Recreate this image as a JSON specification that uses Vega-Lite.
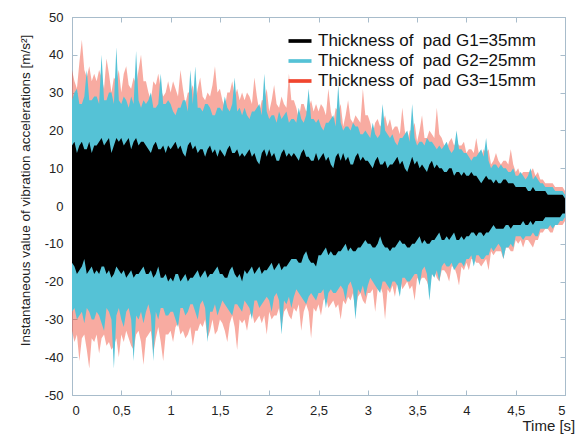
{
 "$schema": "https://vega.github.io/schema/vega-lite/v6.json",
 "width": 493, "height": 378,
 "autosize": {"type": "none"},
 "padding": {"left": 72, "top": 17, "right": 14, "bottom": 39},
 "background": "white",
 "config": {
  "font": "Liberation Sans",
  "view": {"stroke": "#A8BCCB", "strokeWidth": 1},
  "axis": {"domainColor": "#A8BCCB", "tickColor": "#A8BCCB", "grid": false, "labelFontSize": 13, "labelColor": "#222", "titleFontWeight": "normal", "titleColor": "#222"}
 },
 "data": {"values": [
  {"t":0.000,"k1":16,"k0":-15,"c1":28,"c0":-28,"r1":36,"r0":-33},
  {"t":0.025,"k1":17,"k0":-16,"c1":30,"c0":-27,"r1":33,"r0":-36},
  {"t":0.050,"k1":14,"k0":-18,"c1":31,"c0":-30,"r1":31,"r0":-34},
  {"t":0.075,"k1":16,"k0":-17,"c1":27,"c0":-29,"r1":38,"r0":-41},
  {"t":0.100,"k1":17,"k0":-16,"c1":27,"c0":-28,"r1":44,"r0":-35},
  {"t":0.125,"k1":15,"k0":-14,"c1":29,"c0":-31,"r1":36,"r0":-34},
  {"t":0.150,"k1":15,"k0":-18,"c1":36,"c0":-27,"r1":34,"r0":-38},
  {"t":0.175,"k1":17,"k0":-17,"c1":28,"c0":-28,"r1":37,"r0":-43},
  {"t":0.200,"k1":14,"k0":-16,"c1":28,"c0":-30,"r1":33,"r0":-35},
  {"t":0.225,"k1":16,"k0":-18,"c1":29,"c0":-30,"r1":35,"r0":-36},
  {"t":0.250,"k1":16,"k0":-17,"c1":29,"c0":-28,"r1":33,"r0":-34},
  {"t":0.275,"k1":17,"k0":-18,"c1":27,"c0":-29,"r1":36,"r0":-39},
  {"t":0.300,"k1":18,"k0":-16,"c1":40,"c0":-31,"r1":34,"r0":-35},
  {"t":0.325,"k1":16,"k0":-16,"c1":28,"c0":-33,"r1":31,"r0":-34},
  {"t":0.350,"k1":17,"k0":-18,"c1":28,"c0":-27,"r1":39,"r0":-37},
  {"t":0.375,"k1":18,"k0":-17,"c1":30,"c0":-28,"r1":35,"r0":-36},
  {"t":0.400,"k1":14,"k0":-19,"c1":30,"c0":-30,"r1":30,"r0":-38},
  {"t":0.425,"k1":16,"k0":-18,"c1":27,"c0":-43,"r1":34,"r0":-37},
  {"t":0.450,"k1":18,"k0":-16,"c1":42,"c0":-29,"r1":33,"r0":-35},
  {"t":0.475,"k1":17,"k0":-17,"c1":28,"c0":-27,"r1":36,"r0":-40},
  {"t":0.500,"k1":18,"k0":-18,"c1":27,"c0":-30,"r1":30,"r0":-34},
  {"t":0.525,"k1":16,"k0":-17,"c1":29,"c0":-32,"r1":35,"r0":-36},
  {"t":0.550,"k1":17,"k0":-19,"c1":28,"c0":-28,"r1":37,"r0":-33},
  {"t":0.575,"k1":18,"k0":-18,"c1":26,"c0":-27,"r1":32,"r0":-35},
  {"t":0.600,"k1":15,"k0":-17,"c1":29,"c0":-30,"r1":31,"r0":-37},
  {"t":0.625,"k1":17,"k0":-19,"c1":27,"c0":-41,"r1":34,"r0":-38},
  {"t":0.650,"k1":18,"k0":-18,"c1":41,"c0":-29,"r1":32,"r0":-34},
  {"t":0.675,"k1":16,"k0":-18,"c1":28,"c0":-30,"r1":36,"r0":-33},
  {"t":0.700,"k1":17,"k0":-17,"c1":26,"c0":-28,"r1":40,"r0":-36},
  {"t":0.725,"k1":17,"k0":-16,"c1":28,"c0":-31,"r1":33,"r0":-42},
  {"t":0.750,"k1":16,"k0":-18,"c1":27,"c0":-28,"r1":33,"r0":-35},
  {"t":0.775,"k1":15,"k0":-18,"c1":28,"c0":-26,"r1":30,"r0":-34},
  {"t":0.800,"k1":14,"k0":-17,"c1":30,"c0":-29,"r1":28,"r0":-33},
  {"t":0.825,"k1":16,"k0":-19,"c1":26,"c0":-41,"r1":33,"r0":-39},
  {"t":0.850,"k1":17,"k0":-18,"c1":26,"c0":-28,"r1":32,"r0":-35},
  {"t":0.875,"k1":15,"k0":-16,"c1":27,"c0":-30,"r1":35,"r0":-32},
  {"t":0.900,"k1":15,"k0":-19,"c1":35,"c0":-27,"r1":31,"r0":-36},
  {"t":0.925,"k1":16,"k0":-19,"c1":27,"c0":-27,"r1":29,"r0":-41},
  {"t":0.950,"k1":14,"k0":-18,"c1":27,"c0":-29,"r1":30,"r0":-34},
  {"t":0.975,"k1":16,"k0":-20,"c1":28,"c0":-29,"r1":33,"r0":-34},
  {"t":1.000,"k1":15,"k0":-19,"c1":27,"c0":-28,"r1":30,"r0":-33},
  {"t":1.025,"k1":16,"k0":-20,"c1":25,"c0":-28,"r1":33,"r0":-36},
  {"t":1.050,"k1":17,"k0":-18,"c1":24,"c0":-30,"r1":31,"r0":-32},
  {"t":1.075,"k1":15,"k0":-18,"c1":26,"c0":-32,"r1":29,"r0":-31},
  {"t":1.100,"k1":16,"k0":-20,"c1":26,"c0":-27,"r1":36,"r0":-34},
  {"t":1.125,"k1":14,"k0":-19,"c1":28,"c0":-27,"r1":31,"r0":-33},
  {"t":1.150,"k1":13,"k0":-18,"c1":28,"c0":-29,"r1":27,"r0":-35},
  {"t":1.175,"k1":16,"k0":-20,"c1":25,"c0":-28,"r1":30,"r0":-34},
  {"t":1.200,"k1":17,"k0":-19,"c1":36,"c0":-26,"r1":30,"r0":-32},
  {"t":1.225,"k1":15,"k0":-19,"c1":27,"c0":-26,"r1":32,"r0":-37},
  {"t":1.250,"k1":16,"k0":-18,"c1":37,"c0":-28,"r1":27,"r0":-33},
  {"t":1.275,"k1":14,"k0":-17,"c1":26,"c0":-30,"r1":31,"r0":-33},
  {"t":1.300,"k1":15,"k0":-19,"c1":26,"c0":-26,"r1":34,"r0":-31},
  {"t":1.325,"k1":15,"k0":-18,"c1":25,"c0":-25,"r1":29,"r0":-32},
  {"t":1.350,"k1":13,"k0":-17,"c1":27,"c0":-27,"r1":28,"r0":-30},
  {"t":1.375,"k1":15,"k0":-19,"c1":27,"c0":-36,"r1":30,"r0":-35},
  {"t":1.400,"k1":16,"k0":-18,"c1":26,"c0":-28,"r1":29,"r0":-33},
  {"t":1.425,"k1":14,"k0":-18,"c1":24,"c0":-28,"r1":32,"r0":-30},
  {"t":1.450,"k1":15,"k0":-17,"c1":24,"c0":-26,"r1":37,"r0":-34},
  {"t":1.475,"k1":13,"k0":-16,"c1":26,"c0":-29,"r1":30,"r0":-33},
  {"t":1.500,"k1":15,"k0":-18,"c1":26,"c0":-27,"r1":31,"r0":-30},
  {"t":1.525,"k1":14,"k0":-18,"c1":25,"c0":-25,"r1":28,"r0":-31},
  {"t":1.550,"k1":13,"k0":-19,"c1":29,"c0":-26,"r1":26,"r0":-33},
  {"t":1.575,"k1":15,"k0":-19,"c1":26,"c0":-27,"r1":30,"r0":-36},
  {"t":1.600,"k1":16,"k0":-17,"c1":25,"c0":-28,"r1":30,"r0":-31},
  {"t":1.625,"k1":14,"k0":-16,"c1":27,"c0":-29,"r1":33,"r0":-29},
  {"t":1.650,"k1":14,"k0":-18,"c1":34,"c0":-26,"r1":29,"r0":-32},
  {"t":1.675,"k1":15,"k0":-19,"c1":25,"c0":-26,"r1":31,"r0":-38},
  {"t":1.700,"k1":13,"k0":-18,"c1":26,"c0":-27,"r1":28,"r0":-30},
  {"t":1.725,"k1":14,"k0":-20,"c1":24,"c0":-28,"r1":30,"r0":-31},
  {"t":1.750,"k1":13,"k0":-17,"c1":26,"c0":-25,"r1":28,"r0":-30},
  {"t":1.775,"k1":14,"k0":-18,"c1":24,"c0":-26,"r1":30,"r0":-33},
  {"t":1.800,"k1":15,"k0":-17,"c1":23,"c0":-27,"r1":29,"r0":-29},
  {"t":1.825,"k1":13,"k0":-16,"c1":25,"c0":-30,"r1":27,"r0":-28},
  {"t":1.850,"k1":14,"k0":-18,"c1":25,"c0":-25,"r1":34,"r0":-31},
  {"t":1.875,"k1":12,"k0":-17,"c1":26,"c0":-25,"r1":29,"r0":-30},
  {"t":1.900,"k1":11,"k0":-16,"c1":27,"c0":-27,"r1":25,"r0":-29},
  {"t":1.925,"k1":14,"k0":-18,"c1":24,"c0":-26,"r1":28,"r0":-31},
  {"t":1.950,"k1":15,"k0":-17,"c1":35,"c0":-25,"r1":28,"r0":-29},
  {"t":1.975,"k1":13,"k0":-17,"c1":25,"c0":-24,"r1":31,"r0":-34},
  {"t":2.000,"k1":15,"k0":-16,"c1":23,"c0":-25,"r1":25,"r0":-28},
  {"t":2.025,"k1":13,"k0":-15,"c1":24,"c0":-28,"r1":28,"r0":-30},
  {"t":2.050,"k1":14,"k0":-17,"c1":24,"c0":-24,"r1":32,"r0":-29},
  {"t":2.075,"k1":12,"k0":-16,"c1":22,"c0":-23,"r1":27,"r0":-29},
  {"t":2.100,"k1":12,"k0":-15,"c1":25,"c0":-25,"r1":26,"r0":-27},
  {"t":2.125,"k1":14,"k0":-17,"c1":23,"c0":-34,"r1":29,"r0":-32},
  {"t":2.150,"k1":15,"k0":-16,"c1":24,"c0":-25,"r1":27,"r0":-28},
  {"t":2.175,"k1":13,"k0":-16,"c1":25,"c0":-26,"r1":26,"r0":-27},
  {"t":2.200,"k1":14,"k0":-15,"c1":22,"c0":-24,"r1":35,"r0":-29},
  {"t":2.225,"k1":13,"k0":-14,"c1":23,"c0":-27,"r1":28,"r0":-30},
  {"t":2.250,"k1":14,"k0":-14,"c1":23,"c0":-24,"r1":28,"r0":-27},
  {"t":2.275,"k1":13,"k0":-14,"c1":22,"c0":-22,"r1":26,"r0":-28},
  {"t":2.300,"k1":12,"k0":-15,"c1":26,"c0":-23,"r1":23,"r0":-26},
  {"t":2.325,"k1":14,"k0":-15,"c1":23,"c0":-24,"r1":27,"r0":-33},
  {"t":2.350,"k1":15,"k0":-13,"c1":22,"c0":-25,"r1":27,"r0":-28},
  {"t":2.375,"k1":13,"k0":-12,"c1":24,"c0":-26,"r1":25,"r0":-26},
  {"t":2.400,"k1":13,"k0":-14,"c1":31,"c0":-24,"r1":26,"r0":-28},
  {"t":2.425,"k1":12,"k0":-15,"c1":23,"c0":-23,"r1":28,"r0":-35},
  {"t":2.450,"k1":12,"k0":-15,"c1":23,"c0":-24,"r1":25,"r0":-27},
  {"t":2.475,"k1":14,"k0":-16,"c1":22,"c0":-25,"r1":27,"r0":-28},
  {"t":2.500,"k1":12,"k0":-13,"c1":23,"c0":-23,"r1":25,"r0":-26},
  {"t":2.525,"k1":13,"k0":-13,"c1":21,"c0":-23,"r1":27,"r0":-29},
  {"t":2.550,"k1":14,"k0":-12,"c1":20,"c0":-22,"r1":26,"r0":-25},
  {"t":2.575,"k1":12,"k0":-11,"c1":22,"c0":-27,"r1":24,"r0":-24},
  {"t":2.600,"k1":13,"k0":-13,"c1":22,"c0":-23,"r1":31,"r0":-27},
  {"t":2.625,"k1":11,"k0":-12,"c1":23,"c0":-22,"r1":25,"r0":-26},
  {"t":2.650,"k1":10,"k0":-13,"c1":24,"c0":-23,"r1":22,"r0":-25},
  {"t":2.675,"k1":13,"k0":-13,"c1":21,"c0":-23,"r1":26,"r0":-27},
  {"t":2.700,"k1":14,"k0":-12,"c1":32,"c0":-22,"r1":25,"r0":-26},
  {"t":2.725,"k1":12,"k0":-12,"c1":22,"c0":-21,"r1":27,"r0":-30},
  {"t":2.750,"k1":14,"k0":-11,"c1":20,"c0":-22,"r1":21,"r0":-25},
  {"t":2.775,"k1":12,"k0":-10,"c1":21,"c0":-25,"r1":24,"r0":-26},
  {"t":2.800,"k1":13,"k0":-12,"c1":21,"c0":-21,"r1":28,"r0":-24},
  {"t":2.825,"k1":11,"k0":-11,"c1":20,"c0":-20,"r1":23,"r0":-25},
  {"t":2.850,"k1":11,"k0":-12,"c1":22,"c0":-22,"r1":22,"r0":-23},
  {"t":2.875,"k1":13,"k0":-12,"c1":21,"c0":-30,"r1":24,"r0":-28},
  {"t":2.900,"k1":14,"k0":-11,"c1":21,"c0":-22,"r1":23,"r0":-24},
  {"t":2.925,"k1":12,"k0":-11,"c1":19,"c0":-23,"r1":22,"r0":-23},
  {"t":2.950,"k1":13,"k0":-10,"c1":19,"c0":-21,"r1":31,"r0":-25},
  {"t":2.975,"k1":12,"k0":-9,"c1":20,"c0":-24,"r1":24,"r0":-26},
  {"t":3.000,"k1":12,"k0":-10,"c1":19,"c0":-21,"r1":24,"r0":-23},
  {"t":3.025,"k1":11,"k0":-10,"c1":18,"c0":-19,"r1":22,"r0":-23},
  {"t":3.050,"k1":10,"k0":-11,"c1":22,"c0":-20,"r1":19,"r0":-22},
  {"t":3.075,"k1":12,"k0":-11,"c1":19,"c0":-21,"r1":22,"r0":-28},
  {"t":3.100,"k1":13,"k0":-10,"c1":18,"c0":-22,"r1":23,"r0":-22},
  {"t":3.125,"k1":11,"k0":-8,"c1":19,"c0":-23,"r1":21,"r0":-21},
  {"t":3.150,"k1":11,"k0":-10,"c1":27,"c0":-20,"r1":22,"r0":-23},
  {"t":3.175,"k1":12,"k0":-11,"c1":20,"c0":-20,"r1":24,"r0":-30},
  {"t":3.200,"k1":10,"k0":-11,"c1":19,"c0":-21,"r1":21,"r0":-22},
  {"t":3.225,"k1":11,"k0":-12,"c1":18,"c0":-22,"r1":23,"r0":-23},
  {"t":3.250,"k1":11,"k0":-11,"c1":19,"c0":-20,"r1":20,"r0":-21},
  {"t":3.275,"k1":12,"k0":-11,"c1":17,"c0":-20,"r1":21,"r0":-24},
  {"t":3.300,"k1":13,"k0":-10,"c1":16,"c0":-21,"r1":21,"r0":-20},
  {"t":3.325,"k1":11,"k0":-9,"c1":18,"c0":-24,"r1":19,"r0":-19},
  {"t":3.350,"k1":12,"k0":-10,"c1":18,"c0":-19,"r1":26,"r0":-22},
  {"t":3.375,"k1":10,"k0":-10,"c1":19,"c0":-19,"r1":20,"r0":-21},
  {"t":3.400,"k1":9,"k0":-11,"c1":20,"c0":-20,"r1":17,"r0":-20},
  {"t":3.425,"k1":11,"k0":-11,"c1":17,"c0":-20,"r1":20,"r0":-22},
  {"t":3.450,"k1":13,"k0":-10,"c1":27,"c0":-19,"r1":20,"r0":-21},
  {"t":3.475,"k1":11,"k0":-10,"c1":18,"c0":-18,"r1":22,"r0":-25},
  {"t":3.500,"k1":12,"k0":-9,"c1":16,"c0":-18,"r1":17,"r0":-19},
  {"t":3.525,"k1":10,"k0":-8,"c1":17,"c0":-21,"r1":20,"r0":-20},
  {"t":3.550,"k1":11,"k0":-10,"c1":17,"c0":-17,"r1":24,"r0":-19},
  {"t":3.575,"k1":10,"k0":-9,"c1":16,"c0":-16,"r1":18,"r0":-19},
  {"t":3.600,"k1":9,"k0":-10,"c1":18,"c0":-18,"r1":18,"r0":-20},
  {"t":3.625,"k1":11,"k0":-10,"c1":17,"c0":-25,"r1":20,"r0":-22},
  {"t":3.650,"k1":12,"k0":-9,"c1":17,"c0":-18,"r1":19,"r0":-18},
  {"t":3.675,"k1":10,"k0":-9,"c1":16,"c0":-19,"r1":18,"r0":-17},
  {"t":3.700,"k1":11,"k0":-8,"c1":15,"c0":-17,"r1":26,"r0":-19},
  {"t":3.725,"k1":10,"k0":-7,"c1":16,"c0":-20,"r1":19,"r0":-20},
  {"t":3.750,"k1":10,"k0":-9,"c1":15,"c0":-16,"r1":18,"r0":-17},
  {"t":3.775,"k1":9,"k0":-9,"c1":16,"c0":-15,"r1":16,"r0":-17},
  {"t":3.800,"k1":9,"k0":-8,"c1":17,"c0":-16,"r1":15,"r0":-18},
  {"t":3.825,"k1":10,"k0":-9,"c1":15,"c0":-16,"r1":17,"r0":-20},
  {"t":3.850,"k1":10,"k0":-8,"c1":14,"c0":-15,"r1":18,"r0":-16},
  {"t":3.875,"k1":8,"k0":-7,"c1":15,"c0":-17,"r1":16,"r0":-16},
  {"t":3.900,"k1":9,"k0":-9,"c1":20,"c0":-16,"r1":17,"r0":-18},
  {"t":3.925,"k1":9,"k0":-9,"c1":15,"c0":-15,"r1":16,"r0":-21},
  {"t":3.950,"k1":8,"k0":-8,"c1":15,"c0":-15,"r1":16,"r0":-16},
  {"t":3.975,"k1":9,"k0":-9,"c1":14,"c0":-16,"r1":17,"r0":-17},
  {"t":4.000,"k1":8,"k0":-8,"c1":14,"c0":-14,"r1":14,"r0":-15},
  {"t":4.025,"k1":8,"k0":-8,"c1":13,"c0":-14,"r1":15,"r0":-17},
  {"t":4.050,"k1":9,"k0":-7,"c1":12,"c0":-13,"r1":15,"r0":-14},
  {"t":4.075,"k1":8,"k0":-7,"c1":13,"c0":-16,"r1":14,"r0":-14},
  {"t":4.100,"k1":8,"k0":-8,"c1":13,"c0":-13,"r1":18,"r0":-15},
  {"t":4.125,"k1":7,"k0":-7,"c1":14,"c0":-13,"r1":14,"r0":-15},
  {"t":4.150,"k1":6,"k0":-7,"c1":15,"c0":-14,"r1":13,"r0":-16},
  {"t":4.175,"k1":7,"k0":-8,"c1":13,"c0":-14,"r1":15,"r0":-15},
  {"t":4.200,"k1":8,"k0":-7,"c1":18,"c0":-13,"r1":14,"r0":-14},
  {"t":4.225,"k1":7,"k0":-7,"c1":12,"c0":-13,"r1":15,"r0":-17},
  {"t":4.250,"k1":7,"k0":-6,"c1":10,"c0":-11,"r1":11,"r0":-12},
  {"t":4.275,"k1":6,"k0":-5,"c1":11,"c0":-12,"r1":12,"r0":-13},
  {"t":4.300,"k1":7,"k0":-6,"c1":11,"c0":-11,"r1":14,"r0":-12},
  {"t":4.325,"k1":6,"k0":-6,"c1":10,"c0":-10,"r1":12,"r0":-12},
  {"t":4.350,"k1":6,"k0":-6,"c1":11,"c0":-11,"r1":11,"r0":-12},
  {"t":4.375,"k1":7,"k0":-6,"c1":10,"c0":-14,"r1":12,"r0":-14},
  {"t":4.400,"k1":7,"k0":-5,"c1":10,"c0":-11,"r1":12,"r0":-11},
  {"t":4.425,"k1":6,"k0":-5,"c1":9,"c0":-11,"r1":11,"r0":-11},
  {"t":4.450,"k1":6,"k0":-6,"c1":9,"c0":-10,"r1":15,"r0":-12},
  {"t":4.475,"k1":6,"k0":-5,"c1":10,"c0":-11,"r1":11,"r0":-12},
  {"t":4.500,"k1":5,"k0":-5,"c1":8,"c0":-8,"r1":9,"r0":-9},
  {"t":4.525,"k1":5,"k0":-5,"c1":8,"c0":-8,"r1":10,"r0":-10},
  {"t":4.550,"k1":5,"k0":-5,"c1":9,"c0":-8,"r1":8,"r0":-9},
  {"t":4.575,"k1":5,"k0":-4,"c1":8,"c0":-9,"r1":9,"r0":-11},
  {"t":4.600,"k1":5,"k0":-5,"c1":7,"c0":-8,"r1":9,"r0":-9},
  {"t":4.625,"k1":4,"k0":-5,"c1":8,"c0":-8,"r1":9,"r0":-9},
  {"t":4.650,"k1":4,"k0":-4,"c1":10,"c0":-8,"r1":9,"r0":-10},
  {"t":4.675,"k1":5,"k0":-5,"c1":7,"c0":-7,"r1":10,"r0":-11},
  {"t":4.700,"k1":4,"k0":-4,"c1":8,"c0":-8,"r1":8,"r0":-9},
  {"t":4.725,"k1":4,"k0":-4,"c1":7,"c0":-8,"r1":9,"r0":-9},
  {"t":4.750,"k1":4,"k0":-4,"c1":6,"c0":-6,"r1":7,"r0":-7},
  {"t":4.775,"k1":4,"k0":-4,"c1":6,"c0":-6,"r1":7,"r0":-7},
  {"t":4.800,"k1":4,"k0":-3,"c1":5,"c0":-6,"r1":6,"r0":-6},
  {"t":4.825,"k1":3,"k0":-3,"c1":5,"c0":-6,"r1":6,"r0":-6},
  {"t":4.850,"k1":3,"k0":-3,"c1":5,"c0":-5,"r1":6,"r0":-7},
  {"t":4.875,"k1":3,"k0":-3,"c1":5,"c0":-6,"r1":6,"r0":-7},
  {"t":4.900,"k1":3,"k0":-3,"c1":4,"c0":-5,"r1":5,"r0":-5},
  {"t":4.925,"k1":3,"k0":-3,"c1":4,"c0":-5,"r1":5,"r0":-5},
  {"t":4.950,"k1":3,"k0":-3,"c1":4,"c0":-4,"r1":5,"r0":-5},
  {"t":4.975,"k1":3,"k0":-2,"c1":4,"c0":-4,"r1":5,"r0":-5},
  {"t":5.000,"k1":2,"k0":-2,"c1":3,"c0":-3,"r1":4,"r0":-4}
 ]},
 "layer": [
  {
   "mark": {"type": "area", "opacity": 0.45, "clip": true},
   "encoding": {
    "x": {"field": "t", "type": "quantitative", "scale": {"domain": [0, 5], "nice": false, "zero": false},
          "axis": {"orient": "top", "values": [0,0.5,1,1.5,2,2.5,3,3.5,4,4.5,5], "labels": false, "title": null, "tickSize": -5, "domain": true}},
    "y": {"field": "r0", "type": "quantitative", "scale": {"domain": [-50, 50], "nice": false},
          "axis": {"orient": "right", "values": [-50,-40,-30,-20,-10,0,10,20,30,40,50], "labels": false, "title": null, "tickSize": -5}},
    "y2": {"field": "r1"},
    "color": {"datum": "Thickness of\u00a0 pad G3=15mm", "type": "nominal",
      "scale": {"domain": ["Thickness of\u00a0 pad G1=35mm", "Thickness of\u00a0 pad G2=25mm", "Thickness of\u00a0 pad G3=15mm"], "range": ["#000000", "#55C2D6", "#F0452E"]},
      "legend": {"orient": "none", "legendX": 216, "legendY": 12, "title": null, "symbolType": "M-1,-0.16L1,-0.16L1,0.16L-1,0.16Z", "symbolSize": 530, "symbolStrokeWidth": 0, "symbolOpacity": 1, "labelFontSize": 17, "labelColor": "#111", "labelOffset": 6, "rowPadding": -3, "labelLimit": 300}}
   }
  },
  {
   "mark": {"type": "area", "clip": true},
   "encoding": {
    "x": {"field": "t", "type": "quantitative", "axis": null},
    "y": {"field": "c0", "type": "quantitative", "axis": null},
    "y2": {"field": "c1"},
    "color": {"datum": "Thickness of\u00a0 pad G2=25mm", "type": "nominal"}
   }
  },
  {
   "mark": {"type": "area", "clip": true},
   "encoding": {
    "x": {"field": "t", "type": "quantitative",
          "axis": {"orient": "bottom", "values": [0,0.5,1,1.5,2,2.5,3,3.5,4,4.5,5], "format": ".1~f", "labelExpr": "replace(datum.label, '.', ',')", "tickSize": -5, "labelPadding": 14, "title": "Time [s]", "titleFontSize": 15, "titleAlign": "left", "titleAnchor": "start", "titleX": 450, "titleY": 35, "titleBaseline": "alphabetic"}},
    "y": {"field": "k0", "type": "quantitative",
          "axis": {"orient": "left", "values": [-50,-40,-30,-20,-10,0,10,20,30,40,50], "labelExpr": "'' + datum.value", "tickSize": -5, "labelPadding": 14, "title": "Instantaneous value of vibration accelerations [m/s²]", "titleFontSize": 13.5, "titlePadding": 12, "titleY": 173}},
    "y2": {"field": "k1"},
    "color": {"datum": "Thickness of\u00a0 pad G1=35mm", "type": "nominal"}
   }
  }
 ],
 "resolve": {"axis": {"x": "independent", "y": "independent"}}
}
